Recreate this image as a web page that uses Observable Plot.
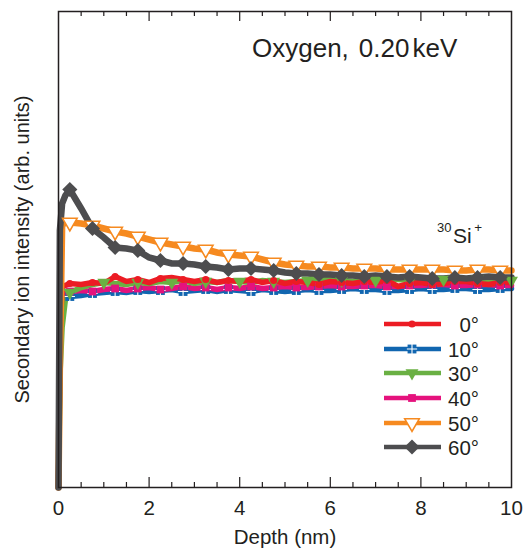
<!DOCTYPE html>
<html>
<head>
<meta charset="utf-8">
<script src="https://cdn.jsdelivr.net/npm/d3@7"></script>
<script src="https://cdn.jsdelivr.net/npm/@observablehq/plot@0.6"></script>
<style>
  body { margin: 0; background: #fff; }
  #chart { position: relative; width: 528px; height: 552px; }
</style>
</head>
<body>
<div id="chart"></div>
<script>
// ---- data ----
const depth = [0, 0.03, 0.08, 0.15, 0.25, 0.5, 0.75, 1, 1.25, 1.5, 1.75, 2, 2.25, 2.5, 2.75, 3, 3.25, 3.5, 3.75, 4, 4.25, 4.5, 4.75, 5, 5.25, 5.5, 5.75, 6, 6.25, 6.5, 6.75, 7, 7.25, 7.5, 7.75, 8, 8.25, 8.5, 8.75, 9, 9.25, 9.5, 9.75, 10];
const angles = ["0°", "10°", "30°", "40°", "50°", "60°"];
const a0  = [0, 150, 200, 202, 204, 203, 205, 204, 211, 206, 208, 205, 209, 210, 208, 206, 208, 205, 207, 206, 208, 205, 207, 204, 206, 205, 203, 206, 205, 204, 206, 205, 207, 201, 204, 205, 203, 204, 206, 206, 204, 203, 205, 205];
const a10 = [0, 130, 180, 188, 191, 192, 194, 195, 196, 195, 197, 196, 197, 198, 196, 197, 198, 196, 198, 197, 196, 198, 197, 196, 197, 198, 197, 197, 198, 199, 198, 198, 197, 197, 198, 199, 198, 198, 199, 199, 198, 198, 199, 199];
const a30 = [0, 110, 160, 187, 195, 200, 203, 205, 204, 203, 205, 204, 206, 205, 207, 204, 206, 205, 207, 206, 205, 207, 206, 205, 206, 207, 208, 208, 207, 206, 208, 207, 208, 208, 207, 206, 207, 208, 208, 207, 208, 208, 207, 207];
const a40 = [0, 140, 188, 194, 196, 197, 196, 198, 199, 197, 199, 200, 198, 199, 201, 199, 200, 198, 200, 199, 201, 199, 200, 201, 200, 200, 201, 202, 201, 201, 202, 202, 201, 201, 202, 202, 203, 203, 202, 202, 203, 203, 202, 202];
const a50 = [0, 120, 262, 265, 265, 264, 262, 259, 256, 254, 251, 248, 245, 243, 241, 239, 238, 235, 233, 232, 231, 228, 225, 223, 222, 221, 221, 220, 220, 219, 219, 219, 218, 218, 218, 218, 218, 218, 217, 217, 218, 218, 217, 217];
const a60 = [0, 257, 284, 292, 298, 279, 259, 250, 240, 239, 237, 230, 227, 224, 224, 223, 221, 220, 218, 219, 219, 218, 217, 215, 214, 214, 213, 213, 212, 212, 211, 212, 211, 210, 211, 210, 209, 209, 210, 209, 210, 211, 210, 210];
const xTicks = [0, 2, 4, 6, 8, 10];
const minorTicks = [0.5, 1, 1.5, 2.5, 3, 3.5, 4.5, 5, 5.5, 6.5, 7, 7.5, 8.5, 9, 9.5];
const majorTicks = [2, 4, 6, 8];
const title = "Oxygen,";
const energy = "0.20";
const unit = "keV";
const xLabel = "Depth (nm)";
const yLabel = "Secondary ion intensity (arb. units)";

// ---- styles ----
const INK = "#231f20";
const FONT = "'Liberation Sans', Arial, Helvetica, sans-serif";
const style = {
  "0°":  {values: a0,  color: "#ec1c24", width: 5.5, symbol: "circle",   r: 3.6, fill: "#ec1c24", stroke: "none", rotate: 0, every: 0.5},
  "10°": {values: a10, color: "#1166b0", width: 5.5, symbol: "square",   r: 5.0, fill: "#1166b0", stroke: "none", rotate: 0, every: 0.5, grid: true},
  "30°": {values: a30, color: "#6ab043", width: 5.5, symbol: "triangle", r: 4.8, fill: "#6ab043", stroke: "none", rotate: 180, every: 0.75},
  "40°": {values: a40, color: "#e5127d", width: 5.5, symbol: "square",   r: 4.4, fill: "#e5127d", stroke: "none", rotate: 0, every: 0.5},
  "50°": {values: a50, color: "#f68a20", width: 6.5, symbol: "triangle", r: 5.4, fill: "white",   stroke: "#f68a20", rotate: 180, every: 0.5},
  "60°": {values: a60, color: "#4d4d4f", width: 6.5, symbol: "diamond2", r: 6.8, fill: "#4d4d4f", stroke: "none", rotate: 0, every: 0.5}
};
const drawOrder = ["10°", "40°", "30°", "0°", "50°", "60°"];

const rows = angles.flatMap(a => depth.map((d, i) => ({angle: a, depth: d, value: style[a].values[i]})));
const isMarker = (a, d) => {
  if (d < 0.25) return false;
  const k = (d - 0.25) / style[a].every;
  return Math.abs(k - Math.round(k)) < 1e-6;
};

const marks = [];
for (const a of drawOrder) {
  const s = style[a];
  marks.push(Plot.line(rows.filter(r => r.angle === a), {
    x: "depth", y: "value", stroke: s.color, strokeWidth: s.width, strokeLinejoin: "miter", strokeMiterlimit: 2
  }));
}
for (const a of drawOrder) {
  const s = style[a];
  const pts = rows.filter(r => r.angle === a && isMarker(a, r.depth));
  marks.push(Plot.dot(pts, {
    x: "depth", y: "value", symbol: s.symbol, r: s.r, fill: s.fill,
    stroke: s.stroke, strokeWidth: s.stroke === "none" ? 0 : 1.6, rotate: s.rotate
  }));
  if (s.grid) {
    marks.push(Plot.dot(pts, {x: "depth", y: "value", symbol: "plus", r: 3.4, stroke: "white", strokeWidth: 1.1}));
  }
}

const FH = 476; // frame height in px (552 - 11 - 65)
marks.push(
  Plot.tickX(minorTicks, {x: d => d, insetTop: FH - 5, stroke: INK, strokeWidth: 1.2}),
  Plot.tickX(majorTicks, {x: d => d, insetTop: FH - 10, stroke: INK, strokeWidth: 1.2}),
  Plot.tickX(minorTicks, {x: d => d, insetBottom: FH - 5, stroke: INK, strokeWidth: 1.2}),
  Plot.tickX(majorTicks, {x: d => d, insetBottom: FH - 10, stroke: INK, strokeWidth: 1.2}),
  Plot.frame({stroke: INK, strokeWidth: 1.5}),
  Plot.axisX({ticks: xTicks, tickSize: 0, tickPadding: 13, fontSize: 20.5, label: null, tickFormat: d => String(d)}),
  Plot.text([xLabel], {text: d => d, frameAnchor: "bottom", dy: 50, fontSize: 20.5, lineAnchor: "middle"}),
  Plot.text([yLabel], {text: d => d, frameAnchor: "left", textAnchor: "middle", dx: -36, rotate: -90, fontSize: 20, lineAnchor: "middle"})
);

const plot = Plot.plot({
  width: 528,
  height: 552,
  marginLeft: 58,
  marginRight: 17,
  marginTop: 11,
  marginBottom: 65,
  x: {domain: [0, 10]},
  y: {domain: [0, 476], axis: null},
  style: {fontFamily: FONT, fontSize: "20px", color: INK, background: "white", overflow: "visible"},
  marks
});
document.getElementById("chart").appendChild(plot);

// ---- annotations and legend drawn into the same SVG ----
const svg = d3.select(plot);
const t = svg.append("text").attr("x", 252).attr("y", 57).attr("text-anchor", "start")
  .attr("font-size", 26).attr("fill", INK).attr("font-family", FONT);
t.append("tspan").text(title);
t.append("tspan").attr("dx", 10).text(energy);
t.append("tspan").attr("dx", 3).text(unit);

const si = svg.append("text").attr("x", 437).attr("y", 243).attr("text-anchor", "start")
  .attr("fill", INK).attr("font-family", FONT);
si.append("tspan").attr("font-size", 13).attr("dy", -11).text("30");
si.append("tspan").attr("font-size", 21).attr("dy", 11).attr("dx", 1.5).text("Si");
si.append("tspan").attr("font-size", 13.5).attr("dy", -11).attr("dx", 2.5).text("+");

const symbolOf = {circle: d3.symbolCircle, square: d3.symbolSquare, triangle: d3.symbolTriangle, diamond2: d3.symbolDiamond2, plus: d3.symbolPlus};
const lg = svg.append("g");
const rowY = [324, 349, 373, 398, 423, 447];
angles.forEach((a, i) => {
  const s = style[a];
  const y = rowY[i];
  lg.append("line").attr("x1", 384).attr("x2", 441).attr("y1", y).attr("y2", y)
    .attr("stroke", s.color).attr("stroke-width", 4.5);
  lg.append("path").attr("d", d3.symbol(symbolOf[s.symbol], Math.PI * s.r * s.r)())
    .attr("transform", `translate(412,${y}) rotate(${s.rotate})`)
    .attr("fill", s.fill).attr("stroke", s.stroke === "none" ? null : s.stroke).attr("stroke-width", 1.6);
  if (s.grid) {
    lg.append("path").attr("d", d3.symbol(d3.symbolPlus, Math.PI * 3.4 * 3.4)())
      .attr("transform", `translate(412,${y})`).attr("fill", "none").attr("stroke", "white").attr("stroke-width", 1.1);
  }
  lg.append("text").attr("x", 479).attr("y", y + 7.5).attr("text-anchor", "end")
    .attr("font-size", 20.5).attr("font-family", FONT).attr("fill", INK).text(a);
});
</script>
</body>
</html>
